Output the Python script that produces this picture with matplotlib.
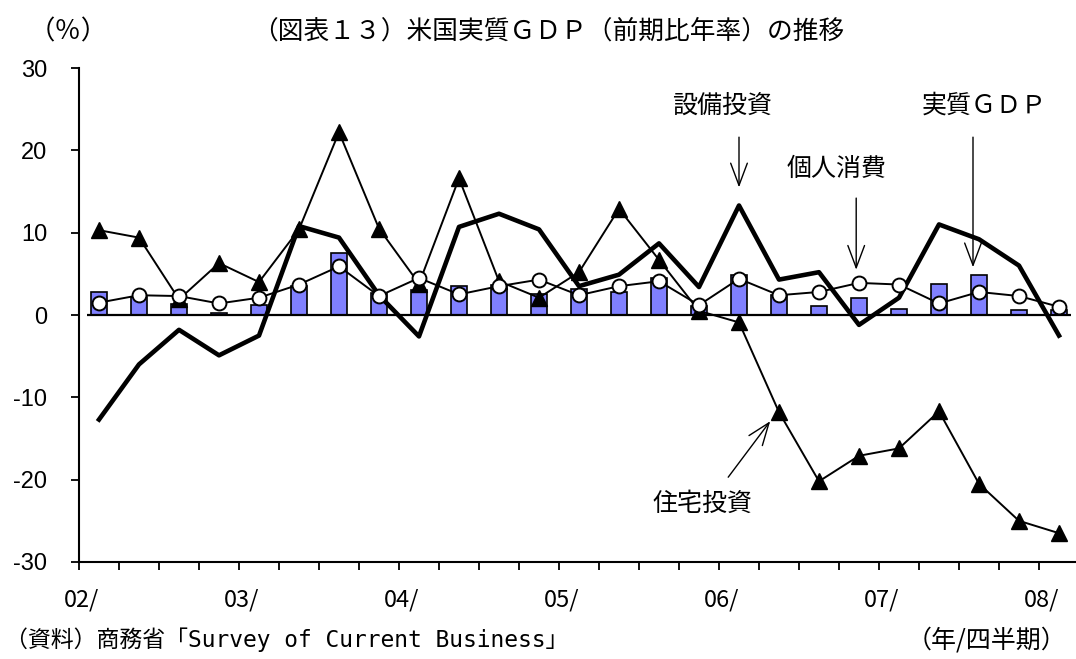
import matplotlib.pyplot as plt
import numpy as np

plt.rcParams['font.family'] = ['Noto Sans CJK JP', 'DejaVu Sans']

# 02Q1 .. 08Q1
quarters = np.arange(25)
year_labels = ['02/', '03/', '04/', '05/', '06/', '07/', '08/']
year_pos = [0, 4, 8, 12, 16, 20, 24]
y_ticks = [-30, -20, -10, 0, 10, 20, 30]

gdp = [2.8, 2.2, 1.3, 0.2, 1.2, 3.5, 7.5, 2.7, 3.0, 3.5, 3.6, 2.5, 3.2,
       2.8, 4.5, 1.1, 4.8, 2.4, 1.1, 2.1, 0.7, 3.8, 4.9, 0.6, 0.6]
consumption = [1.5, 2.4, 2.3, 1.4, 2.1, 3.7, 5.9, 2.3, 4.5, 2.5, 3.5, 4.3, 2.4,
               3.5, 4.1, 1.2, 4.4, 2.4, 2.8, 3.9, 3.7, 1.4, 2.8, 2.3, 1.0]
equipment = [-12.7, -6.0, -1.8, -4.9, -2.5, 10.8, 9.4, 2.4, -2.6, 10.7, 12.3, 10.4, 3.5,
             4.9, 8.7, 3.4, 13.3, 4.3, 5.2, -1.2, 2.1, 11.0, 9.2, 6.0, -2.5]
housing = [10.3, 9.4, 1.9, 6.3, 4.0, 10.4, 22.2, 10.5, 3.8, 16.6, 4.1, 2.1, 5.2,
           12.9, 6.7, 0.5, -0.9, -11.8, -20.2, -17.1, -16.2, -11.7, -20.5, -25.0, -26.5]

fig = plt.figure(figsize=(10.76, 6.59), dpi=100)
ax = fig.add_axes([79 / 1076, 97 / 659, 1000 / 1076, 494 / 659])

ax.bar(quarters, gdp, width=0.42, color='#8080ff', edgecolor='black', linewidth=1.2, zorder=2)
ax.hlines(0, -0.3, 24.3, color='black', lw=1.6, zorder=2.5)
ax.plot(quarters, housing, color='black', lw=1.4, marker='^', ms=11, zorder=3)
ax.plot(quarters, equipment, color='black', lw=3.3, zorder=4)
ax.plot(quarters, consumption, color='black', lw=1.4, marker='o', ms=10,
        mfc='white', mec='black', mew=1.4, zorder=5)

ax.set_xlim(-0.5, 24.5)
ax.set_ylim(-30, 30)
ax.set_yticks(y_ticks)
ax.set_yticklabels([str(v) for v in y_ticks], fontfamily='Liberation Sans', fontsize=17)
for s in ['top', 'right']:
    ax.spines[s].set_visible(False)
for s in ['left', 'bottom']:
    ax.spines[s].set_linewidth(1.5)

ax.set_xticks(np.arange(-0.5, 25, 1))
ax.set_xticklabels([])
ax.set_xticks(year_pos, minor=True)
ax.set_xticklabels(year_labels, minor=True, fontsize=17, ha='right')
ax.tick_params(axis='x', which='major', direction='out', length=6, width=1.3)
ax.tick_params(axis='x', which='minor', length=0, pad=19)
ax.tick_params(axis='y', direction='out', length=6, width=1.3, pad=17)

arrow = dict(arrowstyle='->,head_length=0.8,head_width=0.3', lw=1.0, color='black',
             mutation_scale=20, shrinkA=0, shrinkB=0)
ax.text(15.58, 25.4, '設備投資', fontsize=18, ha='center', va='center')
ax.annotate('', xy=(16.0, 15.5), xytext=(16.0, 21.6), arrowprops=arrow)
ax.text(18.43, 17.8, '個人消費', fontsize=18, ha='center', va='center')
ax.annotate('', xy=(18.93, 5.5), xytext=(18.93, 14.2), arrowprops=arrow)
ax.text(22.13, 25.4, '実質ＧＤＰ', fontsize=18, ha='center', va='center')
ax.annotate('', xy=(21.85, 5.8), xytext=(21.85, 21.6), arrowprops=arrow)
ax.text(15.08, -22.9, '住宅投資', fontsize=18, ha='center', va='center')
ax.annotate('', xy=(16.78, -12.9), xytext=(15.73, -19.7), arrowprops=arrow)

fig.text(548 / 1076, 1 - 32 / 659, '（図表１３）米国実質ＧＤＰ（前期比年率）の推移',
         fontsize=18.5, ha='center', va='center')
fig.text(68 / 1076, 1 - 32 / 659, '（％）', fontsize=19, ha='center', va='center')
fig.text(5 / 1076, 1 - 640 / 659, '（資料）商務省「Survey of Current Business」',
         fontsize=16.5, ha='left', va='center', family=['DejaVu Sans Mono', 'Noto Sans CJK JP'])
fig.text(1066 / 1076, 1 - 640 / 659, '（年/四半期）', fontsize=18, ha='right', va='center')

fig.savefig('out.png', dpi=100)
